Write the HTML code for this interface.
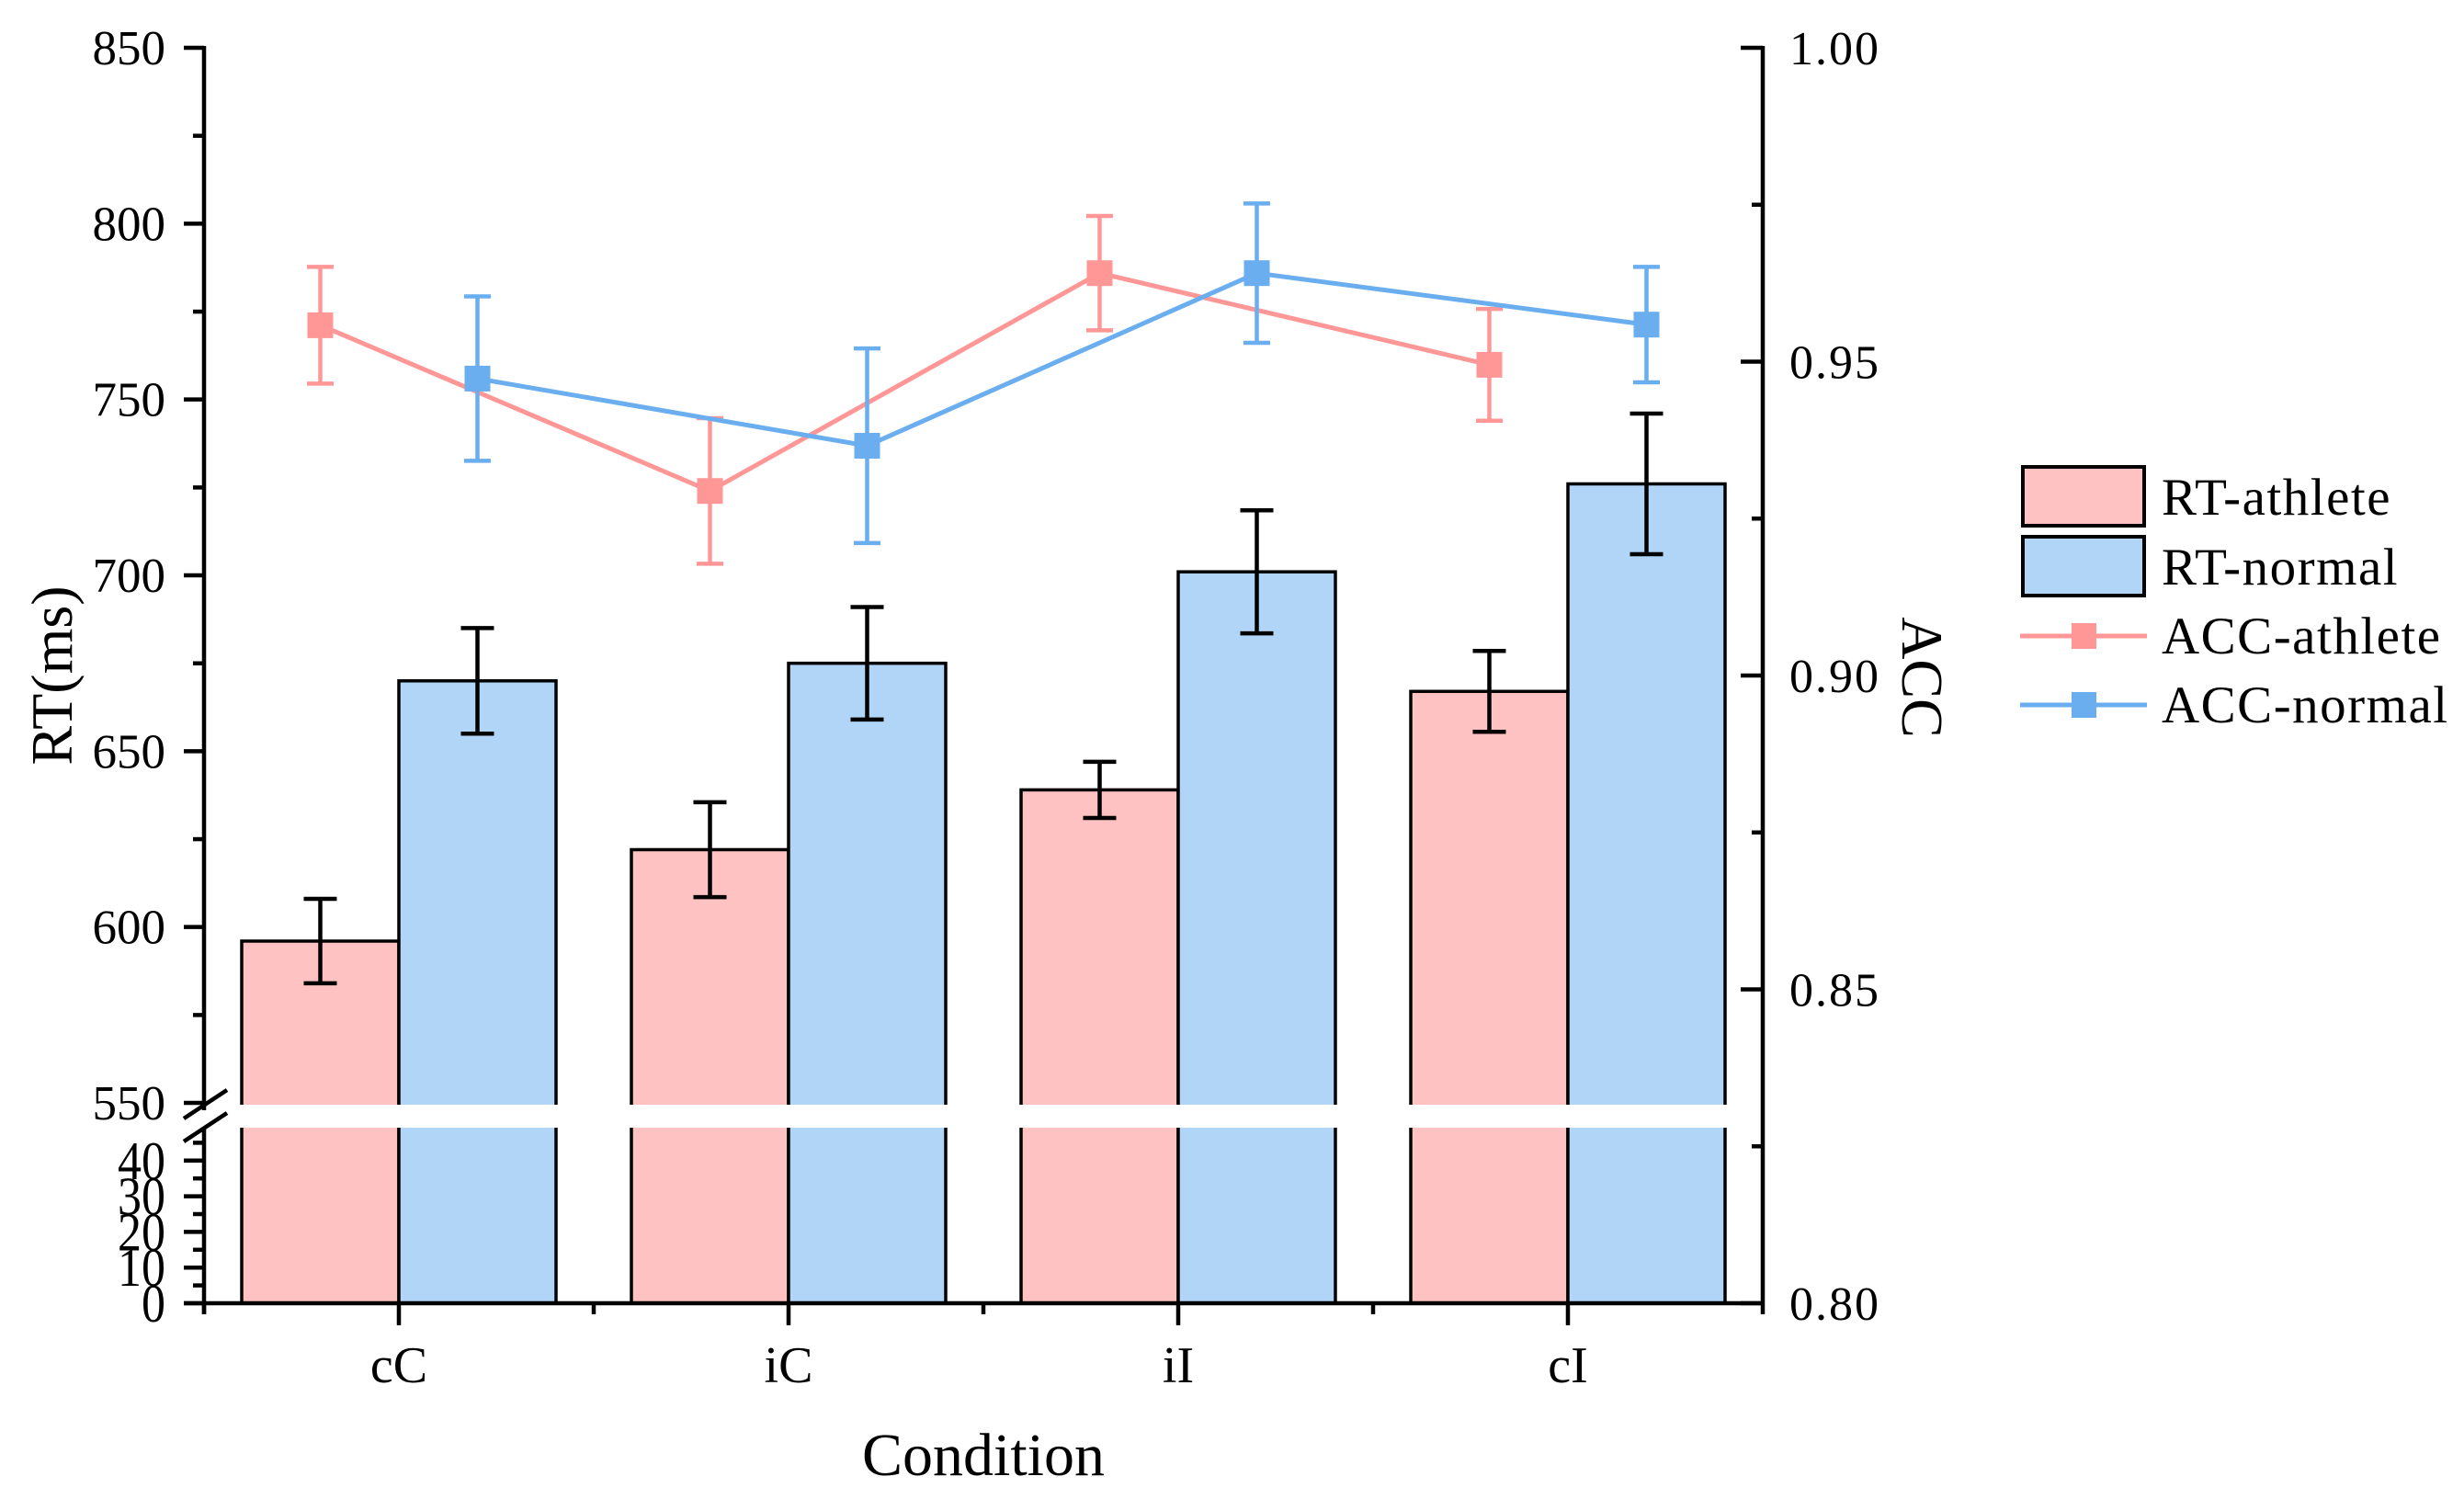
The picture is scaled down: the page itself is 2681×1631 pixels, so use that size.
<!DOCTYPE html>
<html><head><meta charset="utf-8"><style>
html,body{margin:0;padding:0;background:#fff;}
svg{display:block;font-family:"Liberation Serif","DejaVu Serif",serif;}
</style></head><body>
<svg id="chart" width="2681" height="1631" viewBox="0 0 2681 1631" xmlns="http://www.w3.org/2000/svg"></svg>
<script>
const categories = ["cC", "iC", "iI", "cI"];
const rtAthlete = [596, 622, 639, 667];
const rtAthleteErr = [12, 13.5, 8, 11.5];
const rtNormal = [670, 675, 701, 726];
const rtNormalErr = [15, 16, 17.5, 20];
const accAthlete = [0.9558, 0.9294, 0.9641, 0.9495];
const accAthleteErr = [0.0093, 0.0116, 0.0091, 0.0089];
const accNormal = [0.9473, 0.9366, 0.9641, 0.9559];
const accNormalErr = [0.0131, 0.0155, 0.0111, 0.0092];
const upperTicks = [550, 600, 650, 700, 750, 800, 850];
const lowerTicks = [0, 10, 20, 30, 40];
const accTicks = [0.80, 0.85, 0.90, 0.95, 1.00];

const svg = document.getElementById('chart');
const NS = 'http://www.w3.org/2000/svg';
function mk(tag, attrs, parent) {
  const e = document.createElementNS(NS, tag);
  for (const k in attrs) e.setAttribute(k, attrs[k]);
  (parent || svg).appendChild(e);
  return e;
}
const xL = 222, xR = 1918, yBase = 1418, yTop = 52;
const gapTop = 1202, gapBot = 1227;
function yUp(v) { return yTop + (850 - v) * (1200 - yTop) / 300; }
function yLow(v) { return yBase - v * 3.88; }
function yRT(v) { return v >= 550 ? yUp(v) : yLow(v); }
function yAcc(v) { return yBase - (v - 0.8) * (yBase - yTop) / 0.2; }
const step = (xR - xL) / categories.length;
function xCat(i) { return xL + step * (i + 0.5); }
const barW = 171;

const bars = mk('g', {});


function drawBar(x0, v, fill, name) {
  const g = mk('g', {}, bars);
  
  
  const top = yRT(v);
  mk('rect', {x: x0, y: top, width: barW, height: yBase - top, fill: fill, stroke: '#000', 'stroke-width': 3.5}, g);
  mk('rect', {x: x0 - 3, y: gapTop, width: barW + 6, height: gapBot - gapTop, fill: '#fff'}, g);
}
function drawErr(x, v, e, yf, color, cap, w, name) {
  const g = mk('g', {});
  
  
  const a = yf(v + e), b = yf(v - e);
  mk('line', {x1: x, y1: a, x2: x, y2: b, stroke: color, 'stroke-width': w}, g);
  mk('line', {x1: x - cap / 2, y1: a, x2: x + cap / 2, y2: a, stroke: color, 'stroke-width': w}, g);
  mk('line', {x1: x - cap / 2, y1: b, x2: x + cap / 2, y2: b, stroke: color, 'stroke-width': w}, g);
}
categories.forEach((c, i) => {
  const cx = xCat(i);
  drawBar(cx - barW, rtAthlete[i], '#ffc2c2', 'bar-athlete-' + c);
  drawBar(cx, rtNormal[i], '#b1d5f6', 'bar-normal-' + c);
});
categories.forEach((c, i) => {
  const cx = xCat(i);
  drawErr(cx - barW / 2, rtAthlete[i], rtAthleteErr[i], yUp, '#000', 36, 4.5, 'errorbar-athlete-' + c);
  drawErr(cx + barW / 2, rtNormal[i], rtNormalErr[i], yUp, '#000', 36, 4.5, 'errorbar-normal-' + c);
});

function drawLine(vals, errs, off, color, name) {
  const g = mk('g', {});
  
  
  const pts = vals.map((v, i) => (xCat(i) + off) + ',' + yAcc(v)).join(' ');
  mk('polyline', {points: pts, fill: 'none', stroke: color, 'stroke-width': 5}, g);
  vals.forEach((v, i) => {
    const x = xCat(i) + off;
    drawErr(x, v, errs[i], yAcc, color, 29, 4.5, name + '-error-' + categories[i]);
    const m = mk('rect', {x: x - 14, y: yAcc(v) - 14, width: 28, height: 28, fill: color}, g);
    
    
  });
}
drawLine(accAthlete, accAthleteErr, -barW / 2, '#ff9797', 'acc-athlete-line');
drawLine(accNormal, accNormalErr, barW / 2, '#6aaef0', 'acc-normal-line');

const la = mk('g', {});


mk('line', {x1: xL, y1: yTop - 2, x2: xL, y2: 1208, stroke: '#000', 'stroke-width': 4.5}, la);
mk('line', {x1: xL, y1: 1226, x2: xL, y2: yBase + 12, stroke: '#000', 'stroke-width': 4.5}, la);
upperTicks.forEach(v => {
  const y = yUp(v);
  mk('line', {x1: xL - 22, y1: y, x2: xL, y2: y, stroke: '#000', 'stroke-width': 4.5}, la);
  if (v < 850) mk('line', {x1: xL - 12, y1: y - 95.6, x2: xL, y2: y - 95.6, stroke: '#000', 'stroke-width': 4.5}, la);
  const t = mk('text', {x: 180, y: y + 18, 'font-size': 53, 'text-anchor': 'end', fill: '#000'}, la);
  t.textContent = v;
});
lowerTicks.forEach(v => {
  const y = yLow(v);
  mk('line', {x1: xL - 22, y1: y, x2: xL, y2: y, stroke: '#000', 'stroke-width': 4.5}, la);
  mk('line', {x1: xL - 12, y1: y - 19.4, x2: xL, y2: y - 19.4, stroke: '#000', 'stroke-width': 4.5}, la);
  const t = mk('text', {x: 0, y: 0, 'font-size': 52, 'text-anchor': 'end', fill: '#000', transform: 'translate(180,' + (y + 20) + ') scale(1,1.15)'}, la);
  t.textContent = v;
});
mk('line', {x1: 200, y1: 1217, x2: 247, y2: 1186, stroke: '#000', 'stroke-width': 4.5}, la);
mk('line', {x1: 200, y1: 1242, x2: 247, y2: 1211, stroke: '#000', 'stroke-width': 4.5}, la);
const ylab = mk('text', {x: 0, y: 0, 'font-size': 64, 'text-anchor': 'middle', transform: 'translate(78,735) rotate(-90)', fill: '#000'}, la);
ylab.textContent = 'RT(ms)';



const ra = mk('g', {});


mk('line', {x1: xR, y1: yTop - 2, x2: xR, y2: yBase + 12, stroke: '#000', 'stroke-width': 4.5}, ra);
accTicks.forEach((v, i) => {
  const y = yAcc(v);
  mk('line', {x1: xR - 24, y1: y, x2: xR, y2: y, stroke: '#000', 'stroke-width': 4.5}, ra);
  if (i < accTicks.length - 1) {
    const ym = yAcc(v + 0.025);
    mk('line', {x1: xR - 12, y1: ym, x2: xR, y2: ym, stroke: '#000', 'stroke-width': 4.5}, ra);
  }
  const t = mk('text', {x: 1947, y: y + 18, 'font-size': 52, 'letter-spacing': 2, fill: '#000'}, ra);
  t.textContent = v.toFixed(2);
});
const rlab = mk('text', {x: 0, y: 0, 'font-size': 64, 'text-anchor': 'middle', transform: 'translate(2070,737) rotate(90)', fill: '#000'}, ra);
rlab.textContent = 'ACC';



const xa = mk('g', {});


mk('line', {x1: xL - 22, y1: yBase, x2: xR, y2: yBase, stroke: '#000', 'stroke-width': 4.5}, xa);
mk('line', {x1: xL, y1: yBase, x2: xL, y2: yBase + 12, stroke: '#000', 'stroke-width': 4.5}, xa);
categories.forEach((c, i) => {
  const x = xCat(i);
  mk('line', {x1: x, y1: yBase, x2: x, y2: yBase + 24, stroke: '#000', 'stroke-width': 4.5}, xa);
  if (i < categories.length - 1) mk('line', {x1: x + step / 2, y1: yBase, x2: x + step / 2, y2: yBase + 12, stroke: '#000', 'stroke-width': 4.5}, xa);
  const t = mk('text', {x: x, y: 1504, 'font-size': 56, 'text-anchor': 'middle', fill: '#000'}, xa);
  t.textContent = c;
});
const xlab = mk('text', {x: 1070, y: 1605, 'font-size': 66, 'text-anchor': 'middle', fill: '#000'}, xa);
xlab.textContent = 'Condition';



const lg = mk('g', {});


const legendLabels = ['RT-athlete', 'RT-normal', 'ACC-athlete', 'ACC-normal'];
function legendEntry(i, kind, color, yc, base) {
  const g = mk('g', {}, lg);
  
  
  if (kind === 'bar') {
    mk('rect', {x: 2201, y: yc - 32, width: 132, height: 64, fill: color, stroke: '#000', 'stroke-width': 4}, g);
  } else {
    mk('line', {x1: 2198, y1: yc, x2: 2336, y2: yc, stroke: color, 'stroke-width': 5}, g);
    mk('rect', {x: 2254, y: yc - 14, width: 27, height: 28, fill: color}, g);
  }
  const t = mk('text', {x: 2352, y: base, 'font-size': 57, 'letter-spacing': 1.5, fill: '#000'}, g);
  t.textContent = legendLabels[i];
}
legendEntry(0, 'bar', '#ffc2c2', 540, 560);
legendEntry(1, 'bar', '#b1d5f6', 616, 636);
legendEntry(2, 'line', '#ff9797', 692, 711);
legendEntry(3, 'line', '#6aaef0', 767, 786);
</script>
</body></html>
